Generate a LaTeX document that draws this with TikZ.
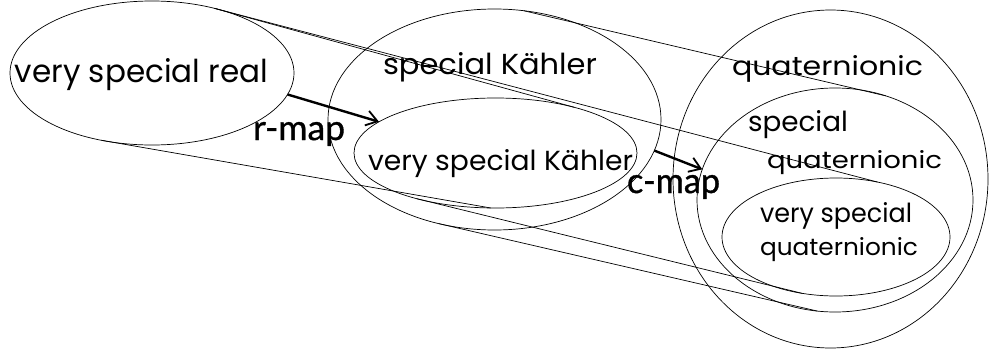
\documentclass[tikz,border=0pt]{standalone}
\usepackage{graphicx}
\usepackage{fontspec}
\setmainfont{Poppins}
\newfontfamily\mapfont[FakeBold=1]{Lato}
\usetikzlibrary{shapes.geometric,arrows.meta}
\begin{document}
\begin{tikzpicture}[x=1pt,y=-1pt,
  region/.style={draw, ellipse, line width=0.7pt, inner sep=0pt, outer sep=0pt},
  link/.style={line width=0.7pt},
  maparrow/.style={line width=2.4pt, -{Straight Barb[length=11pt,width=15pt,line width=1.8pt]}},
  lbl/.style={anchor=base west, inner sep=0pt, outer sep=0pt},
]
\useasboundingbox (0,0) rectangle (994,351);
% regions
\node[region, minimum width=284pt, minimum height=144pt] (vsr) at (152,73) {};
\node[region, minimum width=333pt, minimum height=221pt] (sk) at (494.5,119.5) {};
\node[region, minimum width=283pt, minimum height=110pt] (vsk) at (495.5,153) {};
\node[region, minimum width=315pt, minimum height=338pt] (q) at (830.5,179) {};
\node[region, minimum width=276pt, minimum height=224pt] (sq) at (835,200) {};
\node[region, minimum width=228pt, minimum height=118pt] (vsq) at (836,237) {};
% labels
\node[lbl] (tvsr) at (15,82) {\resizebox{253pt}{24pt}{very special real}};
\node[lbl] (tsk) at (383,74) {\resizebox{214pt}{22pt}{special Kähler}};
\node[lbl] (tvsk) at (368,170) {\resizebox{265pt}{21pt}{very special Kähler}};
\node[lbl] (tq) at (732,75) {\resizebox{191pt}{20pt}{quaternionic}};
\node[lbl] (tsq1) at (748,131) {\resizebox{100pt}{21pt}{special}};
\node[lbl] (tsq2) at (767,168) {\resizebox{175pt}{18pt}{quaternionic}};
\node[lbl] (tvsq1) at (760,222) {\resizebox{152pt}{20pt}{very special}};
\node[lbl] (tvsq2) at (760,255) {\resizebox{158pt}{18pt}{quaternionic}};
\node[lbl] (trmap) at (253,140) {\resizebox{92pt}{18pt}{\mapfont r-map}};
\node[lbl] (tcmap) at (627,193) {\resizebox{93pt}{18pt}{\mapfont c-map}};
% projection lines
\draw[link] (vsr.46.8) -- (vsk.30);
\draw[link] (vsr.46.8) -- (vsq.53.3);
\draw[link] (sk.75.9) -- (sq.64.7);
\draw[link] (vsr.233.7) -- (vsk.-95);
\draw[link] (vsk.-150.5) -- (vsq.-121.8);
\draw[link] (sk.-118.6) -- (sq.-99.2);
% maps
\draw[maparrow] (vsr.-9.6) -- (vsk.165);
\draw[maparrow] (sk.-11.6) -- (sq.167.8);
\end{tikzpicture}
\end{document}
